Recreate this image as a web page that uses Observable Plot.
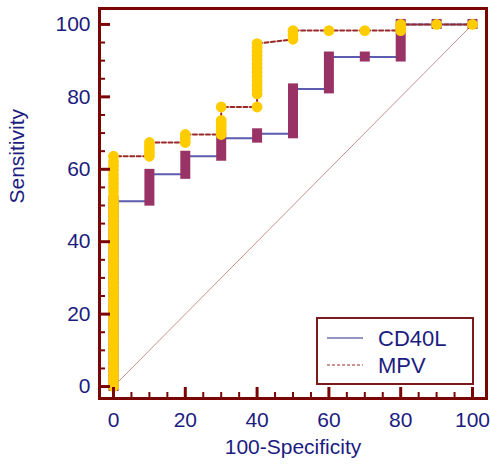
<!DOCTYPE html>
<html>
<head>
<meta charset="utf-8">
<script src="https://cdn.jsdelivr.net/npm/d3@7"></script>
<script src="https://cdn.jsdelivr.net/npm/@observablehq/plot@0.6"></script>
<style>
  body { margin: 0; background: #fff; }
  #chart { width: 490px; height: 466px; }
</style>
</head>
<body>
<div id="chart"></div>
<script>
// ---- data ----
const xMajor = [0, 20, 40, 60, 80, 100];
const xMinor = [5, 10, 15, 25, 30, 35, 45, 50, 55, 65, 70, 75, 85, 90, 95];
const yMajor = [0, 20, 40, 60, 80, 100];
const yMinor = [5, 10, 15, 25, 30, 35, 45, 50, 55, 65, 70, 75, 85, 90, 95];

const diagX = [0, 100];
const diagY = [0, 100];

// CD40L ROC: at each 100-Specificity value, sensitivity rises from low to high
const cdFpr      = [0,   10,   20,   30,   40,   50,   60,   70,   80,   90,  100];
const cdSensLow  = [0,   51.2, 58.6, 63.6, 68.6, 69.8, 82.2, 91.0, 91.0, 100, 100];
const cdSensHigh = [51.2, 58.6, 63.6, 68.6, 69.8, 82.2, 91.0, 91.0, 100, 100, 100];

// MPV ROC points (100-Specificity, Sensitivity)
const mpvFpr = [
  0,0,0,0,0,0,0,0,0,0,0,0,0,0,0,0,0,0,0,0,0,0,0,0,0,0,0,0,0,0,0,0,0,0,0,0,0,0,0,0,0,0,0,0,0,0,0,0,0,0,0,0,0,
  10,10,10,10,10,
  20,20,20,
  30,30,30,30,30,30,
  40,40,40,40,40,40,40,40,40,40,40,40,40,40,
  50,50,50,
  60,
  70,
  80,80,80,
  90,
  100
];
const mpvSens = [
  0,1.2,2.4,3.7,4.9,6.1,7.3,8.5,9.8,11.0,12.2,13.4,14.6,15.9,17.1,18.3,19.5,20.7,22.0,23.2,24.4,25.6,26.8,28.0,29.3,30.5,
  31.7,32.9,34.1,35.4,36.6,37.8,39.0,40.2,41.5,42.7,43.9,45.1,46.3,47.6,48.8,50.0,51.2,52.4,53.7,54.9,56.1,57.3,58.5,59.8,61.0,62.2,63.6,
  63.6,64.5,65.5,66.4,67.4,
  67.4,68.5,69.6,
  69.6,70.7,71.7,72.6,73.5,77.2,
  77.2,80.8,82.0,83.2,84.4,85.6,86.8,88.0,89.2,90.4,91.5,92.6,93.7,94.7,
  95.9,97.1,98.3,
  98.3,
  98.3,
  98.3,99.2,100,
  100,
  100
];

const legendNames = ["CD40L", "MPV"];

// ---- styles ----
const axisColor = "#7a0505";
const textColor = "#1c1c80";
const cdLineColor = "#5c5cae";
const cdBarColor = "#993366";
const mpvLineColor = "#9a2a2a";
const mpvDotColor = "#ffcc00";
const font = "'Liberation Sans', Arial, sans-serif";

const W = 490, H = 466;
const mL = 99, mR = 4, mT = 8, mB = 68;
const innerW = W - mL - mR, innerH = H - mT - mB;

// build tables
const diag = diagX.map((x, i) => ({x, y: diagY[i]}));
const cdLine = [];
cdFpr.forEach((x, i) => { cdLine.push({x, y: cdSensLow[i]}); cdLine.push({x, y: cdSensHigh[i]}); });
const cdBars = cdFpr.map((x, i) => ({x, lo: cdSensLow[i], hi: cdSensHigh[i]}));
const mpv = mpvFpr.map((x, i) => ({x, y: mpvSens[i]}));

function legend(index, scales, values, dims) {
  const right = dims.width - dims.marginRight;
  const bottom = dims.height - dims.marginBottom;
  const g = d3.create("svg:g");
  const x0 = right - 169, x1 = right - 13, y0 = bottom - 80, y1 = bottom - 14;
  g.append("rect").attr("x", x0).attr("y", y0).attr("width", x1 - x0).attr("height", y1 - y0)
    .attr("fill", "#fff").attr("stroke", "#7a1a1a").attr("stroke-width", 2);
  const rows = [
    {name: legendNames[0], y: y0 + 20, stroke: "#2a2a88", dash: null},
    {name: legendNames[1], y: y0 + 47, stroke: mpvLineColor, dash: "3,2"}
  ];
  for (const r of rows) {
    g.append("line").attr("x1", x0 + 10).attr("x2", x0 + 46).attr("y1", r.y).attr("y2", r.y)
      .attr("stroke", r.stroke).attr("stroke-width", 1.2).attr("stroke-dasharray", r.dash);
    g.append("text").attr("x", x0 + 61).attr("y", r.y).attr("dy", "0.36em")
      .attr("text-anchor", "start")
      .attr("fill", textColor).attr("font-size", 22).attr("font-family", font).text(r.name);
  }
  return g.node();
}

const chart = Plot.plot({
  width: W, height: H,
  marginLeft: mL, marginRight: mR, marginTop: mT, marginBottom: mB,
  style: {fontFamily: font, background: "#fff", overflow: "visible"},
  x: {domain: [-3.9, 103.9]},
  y: {domain: [-3.3, 104.4]},
  marks: [
    Plot.line(diag, {x: "x", y: "y", stroke: "#c89090", strokeWidth: 1}),
    Plot.line(cdLine, {x: "x", y: "y", stroke: cdLineColor, strokeWidth: 2}),
    Plot.ruleX(cdBars, {x: "x", y1: "lo", y2: "hi", stroke: cdBarColor, strokeWidth: 10, strokeLinecap: "square"}),
    Plot.line(mpv, {x: "x", y: "y", stroke: mpvLineColor, strokeWidth: 2, strokeDasharray: "4,2.5"}),
    Plot.dot(mpv, {x: "x", y: "y", r: 5.4, fill: mpvDotColor, stroke: "none"}),
    // tick marks (inward)
    Plot.ruleX(xMinor, {x: d => d, insetTop: innerH - 6, stroke: axisColor, strokeWidth: 2}),
    Plot.ruleX(xMajor, {x: d => d, insetTop: innerH - 11, stroke: axisColor, strokeWidth: 3}),
    Plot.ruleY(yMinor, {y: d => d, insetRight: innerW - 6, stroke: axisColor, strokeWidth: 2}),
    Plot.ruleY(yMajor, {y: d => d, insetRight: innerW - 11, stroke: axisColor, strokeWidth: 3}),
    Plot.frame({stroke: axisColor, strokeWidth: 3}),
    Plot.axisX({ticks: xMajor, tickSize: 0, tickPadding: 14, fontSize: 21, color: textColor, label: null, tickFormat: d => String(d)}),
    Plot.axisY({ticks: yMajor, tickSize: 0, tickPadding: 9, fontSize: 21, color: textColor, label: null, tickFormat: d => String(d)}),
    Plot.text(["100-Specificity"], {text: d => d, frameAnchor: "bottom", dy: 55, fontSize: 21, fill: textColor}),
    Plot.text(["Sensitivity"], {text: d => d, frameAnchor: "left", dx: -82, rotate: -90, fontSize: 21, fill: textColor}),
    legend
  ]
});
document.getElementById("chart").appendChild(chart);
</script>
</body>
</html>
